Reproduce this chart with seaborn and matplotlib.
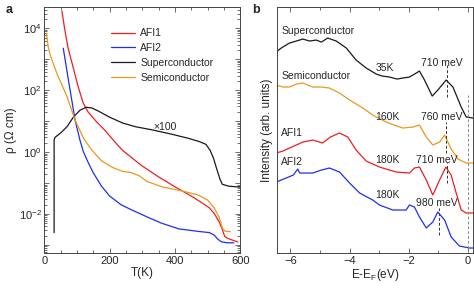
import numpy as np
import pandas as pd
import matplotlib
matplotlib.use('Agg')
import matplotlib.pyplot as plt
import seaborn as sns
from matplotlib.ticker import LogLocator, FuncFormatter, MultipleLocator, NullFormatter, NullLocator

# ─── panel a: resistivity vs temperature (log10 rho) ───
afi1_T = [54, 62, 72, 88, 104, 119, 134, 160, 186, 212, 238, 270, 300, 350, 400,
          450, 480, 505, 520, 535, 545, 552, 560, 575, 592]
afi1_logrho = [4.56, 4.0, 3.4, 2.75, 2.1, 1.59, 1.3, 0.98, 0.7, 0.38, 0.07, -0.2, -0.45,
               -0.8, -1.12, -1.42, -1.62, -1.8, -1.98, -2.25, -2.5, -2.72, -2.78, -2.84, -2.9]

afi2_T = [58, 75, 94, 109, 120, 135, 150, 175, 200, 235, 270, 320, 360, 412, 470,
          505, 520, 530, 542, 560, 580]
afi2_logrho = [3.36, 2.25, 1.05, 0.39, 0.0, -0.35, -0.67, -1.1, -1.42, -1.7, -1.88, -2.12,
               -2.3, -2.48, -2.56, -2.6, -2.68, -2.8, -2.9, -2.93, -2.93]

sc_T = [30, 30, 33, 50, 70, 90, 110, 128, 145, 165, 200, 240, 280, 330, 390, 440,
        475, 495, 508, 518, 528, 538, 545, 565, 600]
sc_logrho = [-2.6, 0.4, 0.48, 0.62, 0.83, 1.15, 1.36, 1.45, 1.43, 1.33, 1.13, 0.94, 0.82,
             0.72, 0.58, 0.45, 0.34, 0.25, 0.05, -0.2, -0.55, -0.88, -1.04, -1.1, -1.13]

semi_T = [6, 12, 18, 30, 42, 55, 70, 94, 120, 145, 175, 210, 240, 265, 290, 315, 360,
          420, 470, 500, 520, 535, 545, 552, 570]
semi_logrho = [3.85, 3.4, 3.14, 2.78, 2.45, 2.15, 1.78, 1.04, 0.45, 0.07, -0.28, -0.5,
               -0.62, -0.66, -0.76, -0.95, -1.12, -1.25, -1.38, -1.55, -1.8, -2.1, -2.45,
               -2.55, -2.57]

# ─── panel b: spectra (arb. units, already offset) ─────────────────────────
sc_E = [-6.48, -6.31, -6.03, -5.8, -5.58, -5.35, -5.13, -4.95, -4.74, -4.45, -4.11, -3.78,
        -3.44, -3.10, -2.9, -2.65, -2.4, -2.20, -1.98, -1.86, -1.64, -1.47, -1.21, -1.02,
        -0.74, -0.51, -0.23, -0.06, 0.17]
sc_I = [201, 205, 210, 212, 214, 212, 213, 211, 215, 212, 205, 193, 185, 179, 177, 176,
        174, 175, 176, 178, 182, 173, 157, 163, 173, 166, 146, 136, 135]

semi_E = [-6.48, -6.25, -6.03, -5.8, -5.58, -5.24, -4.95, -4.68, -4.34, -4.00, -3.55,
          -3.22, -2.76, -2.50, -2.20, -1.86, -1.64, -1.41, -1.19, -0.96, -0.79, -0.57,
          -0.34, -0.06, 0.17]
semi_I = [168, 166, 166, 169, 170, 166, 166, 165, 160, 153, 145, 138, 131, 128, 125, 126,
          128, 116, 108, 111, 118, 104, 94, 90, 90]

afi1_E = [-6.48, -6.25, -6.03, -5.8, -5.58, -5.24, -4.91, -4.65, -4.34, -4.06, -3.78,
          -3.44, -2.99, -2.43, -1.98, -1.81, -1.64, -1.41, -1.19, -0.96, -0.75, -0.57,
          -0.40, -0.23, -0.06, 0.17]
afi1_I = [100, 102, 105, 108, 111, 113, 110, 116, 120, 116, 103, 92, 86, 81, 80, 85, 86,
          73, 58, 73, 86, 78, 60, 43, 40, 40]

afi2_E = [-6.48, -6.14, -5.9, -5.75, -5.69, -5.45, -5.24, -4.95, -4.68, -4.34, -4.00,
          -3.66, -3.22, -2.99, -2.54, -2.09, -1.98, -1.81, -1.64, -1.41, -1.19, -1.02,
          -0.79, -0.57, -0.29, 0.05, 0.17]
afi2_I = [71, 75, 78, 84, 80, 80, 80, 83, 85, 81, 70, 60, 53, 48, 43, 43, 48, 46, 36, 25,
          31, 41, 33, 16, 7, 5, 5]

peak_E = [-0.71, -0.76, -0.71, -0.98]
peak_I = [(156, 188), (100, 131), (70, 90), (18, 45)]

legend_names = ['AFI1', 'AFI2', 'Superconductor', 'Semiconductor']
colors = ['#ee1f1f', '#1f2fee', '#1a1a1a', '#e89a1c']

sns.set_style('ticks')
plt.rcParams['font.family'] = ['Liberation Sans', 'DejaVu Sans']
plt.rcParams['mathtext.fontset'] = 'custom'
plt.rcParams['mathtext.rm'] = 'Liberation Sans'
plt.rcParams['mathtext.it'] = 'Liberation Sans'

fig = plt.figure(figsize=(4.74, 2.88), dpi=100)
ax_a = fig.add_axes([0.0935, 0.1215, 0.4135, 0.854])
ax_b = fig.add_axes([0.5845, 0.1215, 0.4135, 0.854])

# ── panel a ────────────────────────────────────────────────────────────────
curves_a = [(afi1_T, afi1_logrho), (afi2_T, afi2_logrho), (sc_T, sc_logrho), (semi_T, semi_logrho)]
for name, (T, lr), c in zip(legend_names, curves_a, colors):
    df = pd.DataFrame({'T': T, 'rho': 10.0 ** np.array(lr)})
    sns.lineplot(data=df, x='T', y='rho', ax=ax_a, color=c, lw=0.9, label=name,
                 estimator=None, sort=False)

ax_a.set_yscale('log')
ax_a.set_xlim(0, 600)
ax_a.set_ylim(10 ** -3.26, 10 ** 4.69)
ax_a.xaxis.set_major_locator(MultipleLocator(200))
ax_a.xaxis.set_minor_locator(MultipleLocator(50))
ax_a.yaxis.set_major_locator(LogLocator(base=10, numticks=20))
ax_a.yaxis.set_minor_locator(LogLocator(base=10, subs=np.arange(2, 10), numticks=20))
ax_a.yaxis.set_major_formatter(FuncFormatter(
    lambda v, p: '$10^{%d}$' % round(np.log10(v)) if round(np.log10(v)) % 2 == 0 else ''))
ax_a.yaxis.set_minor_formatter(NullFormatter())
ax_a.set_xlabel('T(K)', fontsize=8.5, labelpad=1)
ax_a.set_ylabel('ρ (Ω cm)', fontsize=8.5, labelpad=1)
ax_a.text(368, 10 ** 0.82, '×100', fontsize=7.5, ha='center', va='center')
ax_a.legend(loc='upper left', bbox_to_anchor=(0.32, 0.93), frameon=False, fontsize=7.5,
            handlelength=2.3, handletextpad=0.5, labelspacing=0.45, borderaxespad=0)

# ── panel b ────────────────────────────────────────────────────────────────
curves_b = [(sc_E, sc_I), (semi_E, semi_I), (afi1_E, afi1_I), (afi2_E, afi2_I)]
colors_b = [colors[2], colors[3], colors[0], colors[1]]
for (E, I), c in zip(curves_b, colors_b):
    df = pd.DataFrame({'E': E, 'I': I})
    sns.lineplot(data=df, x='E', y='I', ax=ax_b, color=c, lw=0.9, estimator=None, sort=False)

for e, (lo, hi) in zip(peak_E, peak_I):
    ax_b.plot([e, e], [lo, hi], color='#333333', lw=0.7, ls=(0, (3, 2)))
ax_b.plot([0, 0], [0, 158], color='#888888', lw=0.7, ls=(0, (3, 2)))

txt = dict(fontsize=7.5, va='center')
ax_b.text(-6.31, 222, 'Superconductor', **txt)
ax_b.text(-3.12, 185, '35K', **txt)
ax_b.text(-1.58, 190, '710 meV', **txt)
ax_b.text(-6.31, 177, 'Semiconductor', **txt)
ax_b.text(-3.12, 136, '160K', **txt)
ax_b.text(-1.58, 136, '760 meV', **txt)
ax_b.text(-6.31, 120, 'AFI1', **txt)
ax_b.text(-3.12, 93, '180K', **txt)
ax_b.text(-1.75, 93, '710 meV', **txt)
ax_b.text(-6.31, 91, 'AFI2', **txt)
ax_b.text(-3.12, 58, '180K', **txt)
ax_b.text(-1.75, 50, '980 meV', **txt)

ax_b.set_xlim(-6.45, 0.17)
ax_b.set_ylim(0, 246)
ax_b.xaxis.set_major_locator(MultipleLocator(2))
ax_b.xaxis.set_minor_locator(MultipleLocator(1))
ax_b.yaxis.set_major_locator(NullLocator())
ax_b.set_xlabel('E-E$_\\mathregular{F}$(eV)', fontsize=8.5, labelpad=1)
ax_b.set_ylabel('Intensity (arb. units)', fontsize=8.5, labelpad=3)

for ax in (ax_a, ax_b):
    ax.tick_params(which='both', direction='in', top=True, right=True, labelsize=8, pad=2,
                   width=0.6, color='#555555')
    ax.tick_params(which='major', length=3.5)
    ax.tick_params(which='minor', length=2)
    for s in ax.spines.values():
        s.set_linewidth(0.7)
        s.set_color('#444444')

fig.text(0.012, 0.965, 'a', fontsize=9, fontweight='bold', ha='left', va='center')
fig.text(0.533, 0.965, 'b', fontsize=9, fontweight='bold', ha='left', va='center')

fig.savefig('out.png', dpi=100)
